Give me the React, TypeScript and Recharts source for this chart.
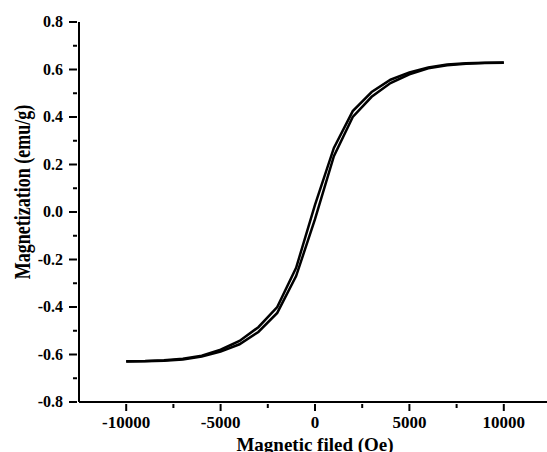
import React from 'react';
import { LineChart, Line, XAxis, YAxis } from 'recharts';

// field values (Oe)
const fieldValues = [
  -10000, -9000, -8000, -7000, -6000, -5000, -4000, -3000, -2000, -1000, 0,
  1000, 2000, 3000, 4000, 5000, 6000, 7000, 8000, 9000, 10000,
];

// descending branch (left / upper curve)
const upperBranch = [
  -0.628, -0.627, -0.624, -0.618, -0.605, -0.58, -0.543, -0.485, -0.4, -0.235, 0.03,
  0.27, 0.425, 0.505, 0.557, 0.588, 0.609, 0.621, 0.626, 0.628, 0.629,
];

// ascending branch (right / lower curve)
const lowerBranch = [
  -0.629, -0.628, -0.626, -0.621, -0.609, -0.588, -0.557, -0.505, -0.425, -0.27, -0.03,
  0.235, 0.4, 0.485, 0.543, 0.58, 0.605, 0.618, 0.624, 0.627, 0.628,
];

const xTicks = [-10000, -7500, -5000, -2500, 0, 2500, 5000, 7500, 10000];
const xLabelled = [-10000, -5000, 0, 5000, 10000];
const yTicks = [-0.8, -0.7, -0.6, -0.5, -0.4, -0.3, -0.2, -0.1, 0, 0.1, 0.2, 0.3, 0.4, 0.5, 0.6, 0.7, 0.8];
const yLabelled = [-0.8, -0.6, -0.4, -0.2, 0, 0.2, 0.4, 0.6, 0.8];

const upperData = fieldValues.map((h, i) => ({ h, m: upperBranch[i] }));
const lowerData = fieldValues.map((h, i) => ({ h, m: lowerBranch[i] }));

const FONT = '"Liberation Serif", "Times New Roman", serif';

const XTick = ({ x, y, payload }: any) => {
  const major = xLabelled.includes(payload.value);
  return (
    <g>
      <line x1={x} x2={x} y1={y} y2={y + (major ? 7 : 4)} stroke="#000" strokeWidth={2} />
      {major && (
        <text x={x} y={y + 24} textAnchor="middle" fontFamily={FONT} fontWeight="bold" fontSize={17} fill="#000">
          {payload.value}
        </text>
      )}
    </g>
  );
};

const YTick = ({ x, y, payload }: any) => {
  const major = yLabelled.some(v => Math.abs(v - payload.value) < 1e-6);
  return (
    <g>
      <line x1={x} x2={x - (major ? 8 : 4)} y1={y} y2={y} stroke="#000" strokeWidth={2} />
      {major && (
        <text x={x - 14} y={y + 5} textAnchor="end" fontFamily={FONT} fontWeight="bold" fontSize={16} fill="#000">
          {payload.value.toFixed(1)}
        </text>
      )}
    </g>
  );
};

export default function App() {
  return (
    <div style={{ position: 'absolute', left: 0, top: 0, width: 547, height: 452, overflow: 'hidden', background: '#fff' }}>
      <LineChart width={580} height={452} margin={{ top: 22, right: 29, left: 0, bottom: 0 }}>
        <XAxis
          xAxisId="b"
          dataKey="h"
          type="number"
          domain={[-12500, 12500]}
          ticks={xTicks}
          interval={0}
          height={50}
          tickSize={0}
          tickLine={false}
          tick={<XTick />}
          axisLine={{ stroke: '#000', strokeWidth: 2 }}
          allowDuplicatedCategory={false}
        />
        <XAxis
          xAxisId="t"
          orientation="top"
          type="number"
          domain={[-12500, 12500]}
          height={0}
          tick={false}
          tickLine={false}
          axisLine={{ stroke: '#000', strokeWidth: 2 }}
        />
        <YAxis
          type="number"
          domain={[-0.8, 0.8]}
          ticks={yTicks}
          interval={0}
          width={79}
          tickSize={0}
          tickLine={false}
          tick={<YTick />}
          axisLine={{ stroke: '#000', strokeWidth: 2 }}
        />
        <Line
          xAxisId="b"
          data={upperData}
          dataKey="m"
          type="linear"
          stroke="#000"
          strokeWidth={2.5}
          dot={false}
          isAnimationActive={false}
        />
        <Line
          xAxisId="b"
          data={lowerData}
          dataKey="m"
          type="linear"
          stroke="#000"
          strokeWidth={2.5}
          dot={false}
          isAnimationActive={false}
        />
      </LineChart>
      <svg width={547} height={452} style={{ position: 'absolute', left: 0, top: 0, pointerEvents: 'none' }}>
        <text
          x={0}
          y={0}
          transform="translate(30, 192) scale(1.25, 1) rotate(-90)"
          textAnchor="middle"
          fontFamily={FONT}
          fontWeight="bold"
          fontSize={18}
          fill="#000"
        >
          Magnetization (emu/g)
        </text>
        <text x={315} y={451} textAnchor="middle" fontFamily={FONT} fontWeight="bold" fontSize={19} fill="#000">
          Magnetic filed (Oe)
        </text>
      </svg>
    </div>
  );
}
